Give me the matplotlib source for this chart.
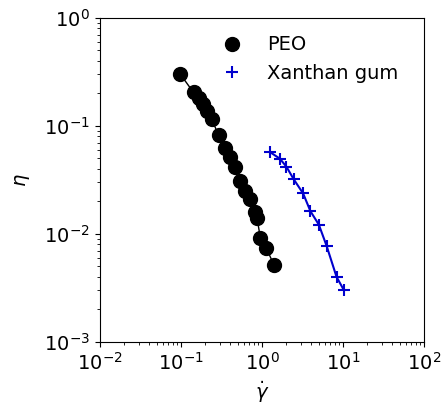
import matplotlib
matplotlib.use('Agg')
import matplotlib.pyplot as plt

# PEO
peo_rate = [0.098, 0.143, 0.165, 0.187, 0.209, 0.241, 0.291, 0.352, 0.406,
            0.469, 0.541, 0.624, 0.705, 0.829, 0.869, 0.955, 1.13, 1.40]
peo_eta = [0.302, 0.204, 0.180, 0.159, 0.138, 0.115, 0.082, 0.063, 0.052,
           0.042, 0.0308, 0.0249, 0.0212, 0.0159, 0.0141, 0.0092, 0.0074, 0.0052]

# Xanthan gum
xg_rate = [1.25, 1.66, 2.00, 2.47, 3.22, 3.97, 5.03, 6.26, 8.33, 10.3]
xg_eta = [0.0574, 0.0498, 0.0420, 0.0320, 0.0237, 0.0162, 0.0122, 0.0078, 0.0040, 0.0030]

plt.rcParams['font.size'] = 14

fig = plt.figure(figsize=(4.44, 4.16), dpi=100)
ax = fig.add_axes([0.225, 0.178, 0.73, 0.779])

ax.plot(peo_rate, peo_eta, '-', color='black', lw=1)
ax.plot(peo_rate, peo_eta, 'o', color='black', ms=10, label='PEO')
ax.plot(xg_rate, xg_eta, '-', color='mediumblue', lw=1.5)
ax.plot(xg_rate, xg_eta, '+', color='mediumblue', ms=8, mew=1.5, label='Xanthan gum')

ax.set_xscale('log')
ax.set_yscale('log')
ax.set_xlim(1e-2, 1e2)
ax.set_ylim(1e-3, 1e0)
ax.set_xlabel(r'$\dot{\gamma}$')
ax.set_ylabel(r'$\eta$', labelpad=9)
ax.legend(loc='upper right', frameon=False, bbox_to_anchor=(0.975, 1.0))

fig.savefig('out.png', dpi=100)
